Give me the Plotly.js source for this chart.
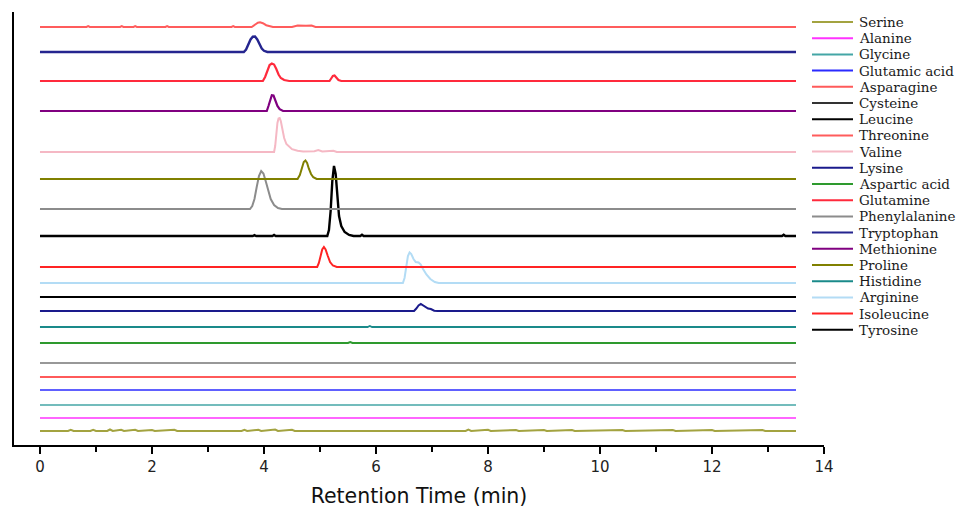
<!DOCTYPE html>
<html>
<head>
<meta charset="utf-8">
<script src="https://cdn.plot.ly/plotly-3.0.1.min.js"></script>
<style>
  html, body { margin: 0; padding: 0; background: #fff; }
  #chart { width: 958px; height: 508px; }
</style>
</head>
<body>
<div id="chart"></div>
<script>
// Legend order (top to bottom in legend)
const names = ["Serine","Alanine","Glycine","Glutamic acid","Asparagine","Cysteine","Leucine","Threonine","Valine","Lysine",
               "Aspartic acid","Glutamine","Phenylalanine","Tryptophan","Methionine","Proline","Histidine","Arginine","Isoleucine","Tyrosine"];

// Vertical offset (stacking baseline) of each chromatogram, same order as names
const baselines = [14, 27, 40, 55, 68, 82, 209, 418, 293, 134,
                   102, 364, 236, 393, 334, 266, 118, 162, 178, 148];

// Chromatogram points [retention time (min), signal]
const serine = [[0,0],[0.5,0],[0.55,1.2],[0.6,0],[0.9,0],[0.95,1.2],[1.0,0],[1.2,0],[1.25,1.5],[1.3,0],[1.45,1.2],[1.5,0],
  [1.7,1.2],[1.75,0],[2.0,1],[2.05,0],[2.4,1.2],[2.45,0],[3.6,0],[3.65,1.2],[3.7,0],[3.9,1.2],[3.95,0],[4.2,1.5],[4.25,0],
  [4.5,1.2],[4.55,0],[7.6,0],[7.65,1.3],[7.7,0],[8.0,1.2],[8.05,0],[8.5,1],[8.55,0],[9.0,1],[9.05,0],[9.5,1],[9.55,0],
  [10.4,1],[10.45,0],[11.3,1],[11.35,0],[12.0,1],[12.05,0],[12.9,1],[12.95,0],[13.5,0]];
const alanine = [[0,0],[13.5,0]];
const glycine = [[0,0],[13.5,0]];
const glutamicAcid = [[0,0],[13.5,0]];
const asparagine = [[0,0],[13.5,0]];
const cysteine = [[0,0],[13.5,0]];
const leucine = [[0,0],[3.8,0],[3.83,0.8],[3.86,0],[4.15,0],[4.18,1],[4.21,0],[5.13,0],[5.16,6],[5.19,25],[5.22,55],
  [5.25,70],[5.28,62],[5.31,38],[5.34,20],[5.38,10],[5.44,4],[5.52,1],[5.6,0],[5.72,0],[5.75,1.2],[5.78,0],[13.25,0],[13.28,1.2],[13.31,0],[13.5,0]];
const threonine = [[0,0],[0.83,0],[0.86,0.8],[0.89,0],[1.43,0],[1.46,0.8],[1.49,0],[1.67,0],[1.7,0.8],[1.73,0],[2.24,0],[2.27,0.8],
  [2.3,0],[3.42,0],[3.45,0.8],[3.48,0],[3.78,0],[3.84,2.5],[3.89,4.3],[3.93,4.7],[3.98,3.8],[4.04,1.8],[4.1,0.5],[4.16,0],[4.5,0],[4.6,1.5],[4.75,1.2],
  [4.85,1.5],[4.92,0],[13.5,0]];
const valine = [[0,0],[4.18,0],[4.2,6],[4.22,18],[4.24,29],[4.26,33.5],[4.28,34],[4.3,31],[4.33,23],[4.36,14],[4.4,8],[4.45,5],[4.5,2.8],
  [4.6,1.2],[4.7,0.5],[4.9,0.8],[4.97,2],[5.04,0.5],[5.2,0.5],[5.24,1.2],[5.3,0],[13.5,0]];
const lysine = [[0,0],[6.68,0],[6.72,2.5],[6.76,5.5],[6.8,7],[6.84,5.5],[6.89,3.5],[6.93,2.5],[6.98,2],[7.04,0.3],[7.1,0],[13.5,0]];
const asparticAcid = [[0,0],[5.5,0],[5.54,1],[5.58,0],[13.5,0]];
const glutamine = [[0,0],[3.98,0],[4.02,4],[4.06,11],[4.1,16],[4.14,17.5],[4.18,16.5],[4.22,12],[4.26,6.5],[4.3,3],[4.36,1],[4.45,0],
  [5.17,0],[5.2,2.5],[5.23,5],[5.26,5.5],[5.29,3.5],[5.33,1],[5.38,0],[13.5,0]];
const phenylalanine = [[0,0],[3.75,0],[3.79,3],[3.83,10],[3.87,22],[3.91,33],[3.95,38],[3.99,35.5],[4.03,28],[4.07,19],[4.12,10],
  [4.18,4],[4.25,1],[4.32,0],[13.5,0]];
const tryptophan = [[0,0],[3.64,0],[3.68,2.5],[3.72,7],[3.76,12.5],[3.8,15.3],[3.84,15.5],[3.88,12.5],[3.92,7.5],[3.96,3.5],[4.0,1.2],[4.06,0],[13.5,0]];
const methionine = [[0,0],[4.05,0],[4.08,5],[4.11,12],[4.14,15.8],[4.17,15.5],[4.2,11],[4.24,5],[4.28,1.8],[4.34,0],[13.5,0]];
const proline = [[0,0],[4.6,0],[4.64,4],[4.68,12],[4.71,17],[4.74,18.5],[4.77,16],[4.8,10.5],[4.84,5],[4.88,1.8],[4.94,0],[13.5,0]];
const histidine = [[0,0],[5.85,0],[5.89,1],[5.93,0],[13.5,0]];
const arginine = [[0,0],[6.48,0],[6.51,5],[6.54,16],[6.57,27],[6.6,30.5],[6.63,29],[6.67,24],[6.71,21],[6.76,20.5],[6.8,18.5],[6.84,14],
  [6.9,8.5],[6.97,4],[7.05,1],[7.12,0],[13.5,0]];
const isoleucine = [[0,0],[4.95,0],[4.98,4],[5.01,11],[5.04,17.5],[5.07,20],[5.1,17.5],[5.14,11],[5.18,5],[5.23,1.5],[5.3,0],[13.5,0]];
const tyrosine = [[0,0],[13.5,0]];

const series = [serine, alanine, glycine, glutamicAcid, asparagine, cysteine, leucine, threonine, valine, lysine,
                asparticAcid, glutamine, phenylalanine, tryptophan, methionine, proline, histidine, arginine, isoleucine, tyrosine];

const xTicks = [0, 2, 4, 6, 8, 10, 12, 14];

// Styles
const colors = ["#a3a340","#ff33ff","#44a6a6","#2b2bff","#ff5a5a","#333333","#000000","#ff5c5c","#f5b8c4","#1a1a8c",
                "#2e9a2e","#ff2a3c","#8c8c8c","#25258f","#800080","#808000","#1a8a8a","#b3dcf5","#ff2424","#000000"];
const widths = [2,1.6,1.6,1.6,1.8,1.2,2.4,2,2,2,
                2,2.2,2,2.4,2.2,2,1.8,2,2,1.8];

const traces = series.map((pts, i) => ({
  type: 'scatter', mode: 'lines', name: names[i],
  x: pts.map(p => p[0]),
  y: pts.map(p => p[1] + baselines[i]),
  line: { color: colors[i], width: widths[i], shape: 'linear' },
  showlegend: false, hoverinfo: 'skip'
}));

// Plot area geometry used for placing the custom legend
const L = 14, T = 12, W = 810, H = 433;
const px2x = px => (px - L) / W;
const py2y = py => (T + H - py) / H;

const shapes = [];
const annotations = [];
names.forEach((n, i) => {
  const py = 22 + 16.2 * i;
  shapes.push({ type: 'line', xref: 'paper', yref: 'paper', x0: px2x(812), x1: px2x(853), y0: py2y(py), y1: py2y(py),
                line: { color: colors[i], width: 2 } });
  annotations.push({ xref: 'paper', yref: 'paper', x: px2x(857), y: py2y(py), xanchor: 'left', yanchor: 'middle',
                     text: n, showarrow: false, font: { family: 'DejaVu Serif', size: 13.5, color: '#1a1a1a' } });
});

const layout = {
  width: 958, height: 508,
  margin: { l: L, r: 958 - L - W, t: T, b: 508 - T - H },
  paper_bgcolor: '#ffffff', plot_bgcolor: '#ffffff',
  showlegend: false,
  xaxis: {
    range: [-0.464, 14], showgrid: false, zeroline: false,
    showline: true, linecolor: '#000', linewidth: 2,
    tickmode: 'array', tickvals: xTicks, ticktext: xTicks.map(String),
    ticks: 'outside', ticklen: 7, tickwidth: 2, tickcolor: '#000',
    minor: { dtick: 1, tick0: 1, ticks: 'outside', ticklen: 5, tickwidth: 2, tickcolor: '#000', showgrid: false },
    tickfont: { family: 'DejaVu Sans', size: 15, color: '#222' },
    title: { text: 'Retention Time (min)', font: { family: 'DejaVu Sans', size: 20.5, color: '#111' }, standoff: 15 },
    automargin: false, fixedrange: true
  },
  yaxis: {
    range: [0, 433], showgrid: false, zeroline: false,
    showline: true, linecolor: '#000', linewidth: 2.5,
    ticks: '', showticklabels: false, automargin: false, fixedrange: true
  },
  shapes: shapes,
  annotations: annotations
};

Plotly.newPlot('chart', traces, layout, { displayModeBar: false, staticPlot: true });
</script>
</body>
</html>
